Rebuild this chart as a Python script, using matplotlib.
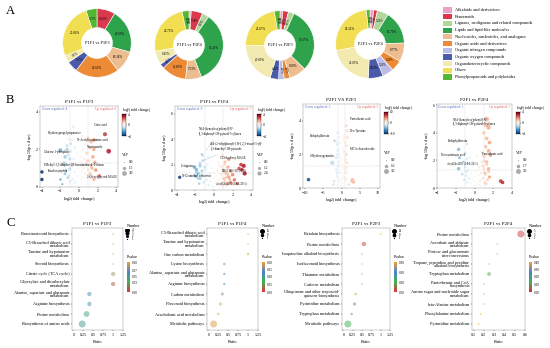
import numpy as np
import matplotlib
matplotlib.use("Agg")
import matplotlib.pyplot as plt
from matplotlib.colors import LinearSegmentedColormap, Normalize
from matplotlib.cm import ScalarMappable

plt.rcParams['font.family'] = ['Liberation Serif', 'DejaVu Serif']

W, H = 550, 348

# ---------------- panel A data ----------------
classes = ["Alkaloids and derivatives", "Benzenoids",
           "Lignans, neolignans and related compounds", "Lipids and lipid-like molecules",
           "Nucleosides, nucleotides, and analogues", "Organic acids and derivatives",
           "Organic nitrogen compounds", "Organic oxygen compounds",
           "Organoheterocyclic compounds", "Others", "Phenylpropanoids and polyketides"]
class_colors = ["#e9a3c6", "#d8394c", "#b3d79b", "#2fa34c", "#ebbd8f", "#ec8a35",
                "#bcbde6", "#4b5aa9", "#f2eab0", "#f1de52", "#54b734"]

donut_titles = ["P1F1 vs P1F3", "P1F1 vs P1F4", "P2F1 vs P2F3", "P2F1 vs P2F4"]
pct_p1f3 = [0, 8.62, 0, 20.69, 10.34, 20.69, 0, 5.17, 3.45, 25.86, 5.17]
pct_p1f4 = [1.08, 5.38, 3.23, 34.41, 7.53, 11.83, 0, 2.15, 6.45, 24.73, 3.23]
pct_p2f3 = [1.33, 2.67, 2.67, 30.67, 8.00, 2.67, 2.67, 4.00, 20.00, 22.67, 2.67]
pct_p2f4 = [1.75, 1.75, 5.26, 15.79, 8.77, 5.26, 5.26, 7.02, 21.05, 26.32, 1.75]

# ---------------- panel B data (log2FC, -log10 p, VIP) ----------------
# significant / labelled metabolites
v1_x = [3.2, 2.8, 1.0, 1.3, 1.6, 1.2, 1.6, 1.5, 1.7, 1.4, 1.8, 1.2, 2.2, 1.6, 0.8, 0.9,
        -4.0, -4.0, -2.0, -1.5, -1.3, -1.0, -1.0, -1.5, -2.0, -1.8, -1.6, -0.9, -0.6, -1.2]
v1_y = [1.9, 2.8, 2.6, 2.4, 2.5, 2.1, 2.0, 1.6, 1.3, 1.0, 0.9, 0.7, 0.6, 0.4, 1.8, 1.4,
        0.8, 0.4, 1.95, 1.6, 2.0, 1.5, 0.95, 0.7, 0.4, 0.15, 1.2, 2.3, 3.2, 0.5]
v1_vip = [3.0, 2.2, 1.2, 1.5, 1.8, 1.5, 1.6, 1.8, 1.7, 1.4, 1.5, 1.2, 1.3, 1.0, 1.0, 1.0,
          1.6, 1.6, 2.0, 1.6, 1.4, 1.4, 1.6, 1.2, 0.8, 0.6, 1.4, 1.0, 0.5, 1.0]
# background metabolites
v1_cx = [-1.6, -1.4, -1.2, -1.1, -0.9, -0.8, -0.7, -0.6, -0.5, -0.45, -0.4, -0.35, -0.3, -0.25,
         -0.2, -0.15, -0.1, -0.05, 0.05, 0.1, 0.15, 0.2, 0.25, 0.3, 0.35, 0.4, 0.45, 0.5, 0.6,
         0.7, 0.8, 0.9, 1.0, 1.1, 1.2, 1.3, -1.3, -0.75, -0.55, 0.65, 0.35, -0.95]
v1_cy = [1.3, 0.9, 1.7, 0.6, 1.9, 1.1, 0.4, 1.5, 0.8, 2.1, 0.3, 1.2, 0.6, 1.8, 0.2, 1.0, 0.5,
         0.1, 0.15, 0.6, 1.1, 0.3, 1.6, 0.8, 1.3, 0.5, 2.0, 1.0, 1.5, 0.7, 1.2, 1.8, 0.9, 1.4,
         0.5, 1.1, 2.2, 2.5, 0.2, 2.3, 2.7, 0.3]
v1_cvip = [0.9, 0.8, 1.0, 0.7, 1.0, 0.8, 0.6, 0.8, 0.6, 0.7, 0.4, 0.6, 0.4, 0.6, 0.3, 0.4, 0.3,
           0.2, 0.2, 0.3, 0.4, 0.3, 0.6, 0.5, 0.6, 0.4, 0.7, 0.6, 0.7, 0.6, 0.8, 0.9, 0.8, 0.9,
           0.8, 0.9, 1.0, 0.8, 0.5, 0.8, 0.6, 0.7]

v2_x = [3.2, 3.3, 3.0, 2.9, 2.7, 1.6, 1.2, 1.5, 1.8, 2.0, 1.3, 1.6, 2.2, 1.1, 1.8, 1.4,
        2.5, 1.0, 0.9,
        -3.7, -2.1, -1.9, -1.5, -1.7, -1.3, -2.0, -1.0, -1.2, -0.8, -1.3, -1.5]
v2_y = [1.9, 1.3, 1.6, 2.0, 1.7, 2.4, 2.2, 1.8, 1.5, 1.2, 1.3, 1.0, 0.8, 0.9, 0.6, 0.5,
        0.5, 1.6, 2.7,
        1.0, 1.8, 1.6, 1.9, 1.3, 1.5, 1.1, 1.8, 2.3, 3.2, 2.8, 0.9]
v2_vip = [2.4, 2.4, 1.8, 1.6, 1.5, 1.4, 1.2, 1.5, 1.6, 1.5, 1.3, 1.7, 1.5, 1.2, 1.4, 1.2,
          1.2, 1.0, 1.0,
          1.5, 1.6, 1.5, 1.4, 1.3, 1.2, 1.2, 1.0, 1.0, 0.6, 0.8, 1.2]
v2_cx = [-1.9, -1.7, -1.5, -1.3, -1.1, -1.0, -0.9, -0.8, -0.7, -0.6, -0.5, -0.4, -0.3, -0.2,
         -0.1, -0.05, 0.05, 0.1, 0.2, 0.3, 0.4, 0.5, 0.6, 0.7, 0.8, 0.9, 1.0, 1.1, 1.2, 1.3,
         1.4, 1.5, 1.7, 1.9, -1.2, -0.65, 0.45, 0.85, -1.6, 1.15]
v2_cy = [1.4, 0.9, 2.1, 1.2, 0.6, 2.4, 1.6, 0.8, 2.0, 0.4, 1.3, 0.7, 1.7, 0.3, 0.9, 0.1, 0.2,
         0.6, 1.1, 0.4, 1.5, 0.8, 1.9, 0.5, 1.2, 0.9, 0.3, 1.4, 0.7, 1.0, 0.4, 1.2, 0.8, 0.5,
         2.7, 2.6, 2.2, 1.8, 0.5, 2.0]
v2_cvip = [1.0, 0.9, 1.1, 0.9, 0.8, 0.9, 0.8, 0.7, 0.8, 0.6, 0.6, 0.5, 0.5, 0.3, 0.3, 0.2, 0.2,
           0.3, 0.4, 0.4, 0.5, 0.6, 0.7, 0.6, 0.8, 0.8, 0.7, 0.9, 0.9, 1.0, 0.9, 1.0, 1.0, 0.9,
           0.8, 0.7, 0.6, 0.8, 0.9, 0.9]

v3_x = [1.2, 1.5, 0.9, 1.6, 1.0, 1.4, 0.8, 1.3, 1.0, 1.5, 0.9, 1.2, 3.0, 3.3, 2.8, 2.0,
        -9.0, -1.0, -0.8, -1.8, -1.2, -2.5, -1.0, -1.5, -0.8, -2.0, -2.2, -1.2]
v3_y = [3.7, 3.4, 3.1, 3.0, 2.7, 2.5, 2.2, 2.0, 1.7, 1.5, 1.2, 0.9, 0.5, 0.35, 0.4, 0.2,
        0.5, 3.3, 3.0, 2.8, 2.6, 1.5, 2.0, 1.8, 1.5, 0.4, 0.2, 0.9]
v3_vip = [1.6, 1.5, 1.0, 1.3, 1.2, 1.3, 1.0, 1.2, 1.0, 1.1, 0.9, 0.9, 1.6, 1.5, 1.4, 0.8,
          1.6, 1.2, 1.0, 1.6, 1.2, 2.6, 1.0, 1.2, 0.8, 0.8, 0.7, 0.8]
v3_cx = [-1.4, -1.2, -1.0, -0.9, -0.8, -0.7, -0.6, -0.5, -0.4, -0.3, -0.25, -0.2, -0.15, -0.1,
         -0.05, 0.05, 0.1, 0.15, 0.2, 0.3, 0.4, 0.5, 0.6, 0.7, 0.8, 0.9, 1.0, 1.1, 1.2, 1.4,
         -0.6, -0.35, 0.35, 0.65, -1.1, 0.95, 0.45, -0.45]
v3_cy = [1.1, 0.7, 1.9, 1.3, 0.5, 2.3, 1.0, 1.6, 0.4, 1.2, 2.0, 0.7, 0.3, 1.4, 0.1, 0.2, 0.9,
         0.5, 1.7, 1.1, 0.6, 1.4, 0.8, 2.1, 1.3, 0.6, 1.0, 1.6, 0.5, 1.2, 2.7, 1.8, 2.4, 2.9,
         2.2, 1.9, 0.3, 0.9]
v3_cvip = [1.0, 0.8, 1.0, 0.9, 0.7, 0.9, 0.8, 0.7, 0.5, 0.6, 0.6, 0.4, 0.3, 0.4, 0.2, 0.2, 0.4,
           0.3, 0.6, 0.5, 0.4, 0.6, 0.6, 0.8, 0.8, 0.7, 0.9, 1.0, 0.8, 1.0, 0.9, 0.7, 0.7, 0.9,
           1.0, 0.9, 0.4, 0.5]

v4_x = [1.3, 1.2, 1.5, 1.0, 1.3, 1.6, 1.2, 1.5, 1.7, 1.0, 1.3, 0.9, 1.5, 1.1, 2.8, 3.0, 1.6,
        -1.7, -1.6, -1.7, -1.0, -0.7, -0.8, -1.2, -0.9]
v4_y = [5.0, 4.6, 4.4, 4.0, 3.6, 3.3, 3.0, 2.7, 2.4, 2.3, 1.9, 1.6, 1.4, 1.1, 0.5, 0.4, 0.8,
        2.8, 2.2, 1.4, 2.5, 1.8, 3.2, 1.9, 1.2]
v4_vip = [3.3, 2.8, 2.5, 1.8, 1.8, 1.7, 1.6, 1.8, 2.0, 1.4, 1.5, 1.1, 1.4, 1.2, 2.0, 1.6, 1.2,
          1.6, 1.3, 1.6, 1.0, 0.8, 0.8, 1.0, 0.8]
v4_cx = [-1.3, -1.1, -1.0, -0.9, -0.8, -0.7, -0.6, -0.5, -0.4, -0.3, -0.25, -0.2, -0.1, -0.05,
         0.05, 0.1, 0.2, 0.3, 0.4, 0.5, 0.6, 0.7, 0.8, 0.9, 1.0, 1.1, 1.2, 1.3, 1.4, 1.5,
         -0.55, -0.15, 0.25, 0.75, 1.05, -0.85, 0.55, 1.25]
v4_cy = [1.0, 0.6, 1.5, 0.9, 0.4, 1.3, 0.7, 1.8, 0.3, 1.1, 0.6, 1.6, 0.2, 0.8, 0.1, 0.5, 1.2,
         0.3, 0.9, 1.5, 0.5, 1.1, 1.9, 0.7, 1.4, 0.4, 1.0, 1.7, 0.6, 1.2, 2.2, 2.0, 2.3, 2.6,
         2.0, 2.1, 0.2, 0.3]
v4_cvip = [0.9, 0.8, 0.9, 0.8, 0.6, 0.8, 0.7, 0.7, 0.4, 0.5, 0.4, 0.5, 0.2, 0.3, 0.2, 0.3, 0.5,
           0.4, 0.5, 0.7, 0.6, 0.7, 0.9, 0.7, 0.9, 0.8, 0.9, 1.0, 0.9, 1.0, 0.7, 0.6, 0.7, 0.9,
           1.0, 0.8, 0.4, 0.8]

# ---------------- panel C data ----------------
c1_paths = ["Brassinosteroid biosynthesis", "C5-Branched dibasic acid\nmetabolism",
            "Taurine and hypotaurine\nmetabolism", "Steroid biosynthesis",
            "Citrate cycle (TCA cycle)", "Glyoxylate and dicarboxylate\nmetabolism",
            "Alanine, aspartate and glutamate\nmetabolism", "Arginine biosynthesis",
            "Purine metabolism", "Biosynthesis of amino acids"]
c1_ratio = [1.0, 1.0, 1.0, 1.0, 1.0, 1.0, 0.4, 0.4, 0.33, 0.22]
c1_p = [0.10, 0.10, 0.10, 0.10, 0.085, 0.01, 0.06, 0.06, 0.045, 0.05]
c1_n = [1, 1, 1, 1, 2, 2, 2, 2, 3, 4]

c2_paths = ["C5-Branched dibasic acid\nmetabolism", "Taurine and hypotaurine\nmetabolism",
            "One carbon metabolism", "Lysine biosynthesis",
            "Alanine, aspartate and glutamate\nmetabolism", "Arginine biosynthesis",
            "Carbon metabolism", "Flavonoid biosynthesis",
            "Arachidonic acid metabolism", "Metabolic pathways"]
c2_ratio = [1.0, 1.0, 1.0, 0.4, 0.4, 0.4, 0.35, 0.3, 0.25, 0.13]
c2_p = [0.20, 0.20, 0.19, 0.12, 0.12, 0.12, 0.15, 0.19, 0.19, 0.19]
c2_n = [1, 1, 2, 2, 2, 2, 3, 3, 2, 16]

c3_paths = ["Betalain biosynthesis", "Purine metabolism",
            "Isoquinoline alkaloid biosynthesis", "Isoflavonoid biosynthesis",
            "Thiamine metabolism", "Caffeine metabolism",
            "Ubiquinone and other terpenoid-\nquinone biosynthesis", "Pyrimidine metabolism",
            "Tryptophan metabolism", "Metabolic pathways"]
c3_ratio = [1.0, 0.55, 0.5, 0.5, 0.5, 0.5, 0.33, 0.3, 0.22, 0.12]
c3_p = [0.30, 0.02, 0.30, 0.30, 0.30, 0.30, 0.28, 0.15, 0.22, 0.10]
c3_n = [1, 6, 1, 1, 1, 1, 2, 3, 2, 14]

c4_paths = ["Purine metabolism", "Ascorbate and aldarate\nmetabolism",
            "Pentose and glucuronate\ninterconversions",
            "Tropane, piperidine and pyridine\nalkaloid biosynthesis",
            "Tryptophan metabolism", "Pantothenate and CoA\nbiosynthesis",
            "Amino sugar and nucleotide sugar\nmetabolism", "beta-Alanine metabolism",
            "Phenylalanine metabolism", "Pyrimidine metabolism"]
c4_ratio = [0.56, 0.33, 0.33, 0.25, 0.25, 0.2, 0.2, 0.2, 0.17, 0.15]
c4_p = [0.01, 0.40, 0.40, 0.40, 0.12, 0.40, 0.40, 0.40, 0.40, 0.40]
c4_n = [5, 1, 1, 1, 2, 1, 1, 1, 1, 1]

fig = plt.figure(figsize=(W / 100, H / 100), dpi=100)


def ax_px(x0, y0, x1, y1):
    return fig.add_axes([x0 / W, 1 - y1 / H, (x1 - x0) / W, (y1 - y0) / H])


def ftext(x, y, s, **kw):
    fig.text(x / W, 1 - y / H, s, **kw)


# ---------------- A: donuts ----------------
ftext(6, 14, "A", fontsize=9)
donut_pos = [(97, 43), (189, 45), (280, 45), (370, 44)]
for (cx, cy), title, pct in zip(donut_pos, donut_titles,
                                [pct_p1f3, pct_p1f4, pct_p2f3, pct_p2f4]):
    r = 36
    ax = ax_px(cx - r, cy - r, cx + r, cy + r)
    vals = [p for p in pct if p > 0]
    cols = [c for p, c in zip(pct, class_colors) if p > 0]
    wedges, _ = ax.pie(vals, colors=cols, startangle=90, counterclock=False,
                       radius=1.0, wedgeprops=dict(width=0.55, edgecolor="white", linewidth=0.4))
    for w, v in zip(wedges, vals):
        mid = (w.theta1 + w.theta2) / 2
        ang = np.deg2rad(mid)
        if v < 4:
            # thin slices: write the label along the radius so neighbours do not collide
            rot = mid if -90 <= ((mid + 180) % 360 - 180) <= 90 else mid + 180
            ax.text(0.73 * np.cos(ang), 0.73 * np.sin(ang), "%.2f%%" % v, rotation=rot,
                    rotation_mode="anchor", ha="center", va="center", fontsize=1.8)
        else:
            ax.text(0.72 * np.cos(ang), 0.72 * np.sin(ang), "%.2f%%" % v,
                    ha="center", va="center", fontsize=2.1 if v < 6 else 2.3)
    ax.text(0, 0, title, ha="center", va="center", fontsize=3.2)
    ax.set_xlim(-1.05, 1.05)
    ax.set_ylim(-1.05, 1.05)
    ax.set_aspect("equal")

for i, (name, col) in enumerate(zip(classes, class_colors)):
    yy = 10 + i * 6.7
    ax = ax_px(443, yy - 2.6, 452, yy + 2.6)
    ax.set_facecolor(col)
    ax.set_xticks([])
    ax.set_yticks([])
    for s in ax.spines.values():
        s.set_visible(False)
    ftext(455, yy, name, fontsize=3.2, va="center")

# ---------------- B: volcanos ----------------
ftext(6, 103, "B", fontsize=9)
vol_cmap = "RdBu_r"
volcanos = [
    dict(title="P1F1 vs P1F3", box=(40, 106, 118, 187), x=v1_x, y=v1_y, vip=v1_vip,
         cx=v1_cx, cy=v1_cy, cvip=v1_cvip,
         xlim=(-4.2, 4.2), xt=[-4, -2, 0, 2, 4], ylim=(0, 4.3), yt=[0, 2, 4], cl=4,
         down="Down regulated: 8", up="Up regulated: 6", vipt=["0.0", "1.5", "3.0"],
         labels=[("Citric acid", 2.8, 2.8, 1.6, 3.3), ("Hydroxypropyl propanoate", -1.0, 2.5, -3.3, 2.85),
                 ("N-Acetylneuraminic acid", 0.9, 2.4, -0.2, 2.5), ("Nicotinamide", 1.2, 2.1, 0.9, 2.15),
                 ("Glucose 1-phosphate", -2.0, 1.95, -3.8, 1.85),
                 ("1-Methyl-1,3-dihydro-2H-benzimidazole-2-thione", -1.0, 0.95, -3.8, 1.15),
                 ("Fenoboxystrobin", -1.5, 0.7, -3.4, 0.85), ("2-Oleoylglycerol MAGE", 1.8, 0.9, 0.9, 0.55)]),
    dict(title="P1F1 vs P1F4", box=(175, 106, 253, 190), x=v2_x, y=v2_y, vip=v2_vip,
         cx=v2_cx, cy=v2_cy, cvip=v2_cvip,
         xlim=(-4.2, 4.2), xt=[-4, -2, 0, 2, 4], ylim=(0, 6.6), yt=[0, 2, 4, 6], cl=4,
         down="Down regulated: 9", up="Up regulated: 7", vipt=["0.0", "1.2", "2.4"],
         labels=[("N-[4-(benzyloxy)phenyl]-N'-\n(1,3-diphenyl-1H-pyrazol-5-yl)urea", -0.8, 3.2, -1.6, 4.6),
                 ("4-[4-(2-ethylphenyl)-1H-1,2,3-triazol-5-yl]-\n1,3-dimethyl-1H-pyrazole", -1.2, 2.3, -0.4, 3.4),
                 ("3-Dehydroxy MAGE", 1.6, 2.4, 0.6, 2.5), ("DAG(16:1/18:1/0:0)", 3.0, 1.6, 0.9, 1.6),
                 ("L-Arginine", -2.1, 1.8, -3.6, 1.85), ("N-Desmethyl adenosine", -3.7, 1.0, -3.4, 1.1),
                 ("AcylGlcADG (18:1/20:1)", 2.2, 0.8, 0.2, 0.5)]),
    dict(title="P2F1 VS P2F3", box=(303, 104, 380, 188), x=v3_x, y=v3_y, vip=v3_vip,
         cx=v3_cx, cy=v3_cy, cvip=v3_cvip,
         xlim=(-10.5, 10.5), xt=[-10, -5, 0, 5, 10], ylim=(0, 5.0), yt=[0, 2, 4], cl=10,
         down="Down regulated: 3", up="Up regulated: 5", vipt=["0.0", "1.6", "3.3"],
         labels=[("Pantothenic acid", 1.2, 3.7, 2.2, 4.1), ("Dl-o-Tyrosine", 1.5, 3.4, 2.3, 3.4),
                 ("Podophyllotoxin", -1.8, 2.8, -8.5, 3.1), ("MCA chenodeoxide", 1.3, 2.0, 2.3, 2.3),
                 ("2'-Hydroxygenistein", -2.5, 1.5, -8.5, 1.9)]),
    dict(title="P2F1 vs P2F4", box=(437, 104, 512, 188), x=v4_x, y=v4_y, vip=v4_vip,
         cx=v4_cx, cy=v4_cy, cvip=v4_cvip,
         xlim=(-4.0, 4.0), xt=[-4, -2, 0, 2, 4], ylim=(0, 6.1), yt=[0, 2, 4, 6], cl=4,
         down="Down regulated: 1", up="Up regulated: 7", vipt=["0.0", "1.7", "3.3"],
         labels=[("N-[4-(benzyloxy)phenyl]-N'-\n(1,3-diphenyl-1H-pyrazol-5-yl)urea", 1.2, 4.6, -2.3, 4.8),
                 ("Podophyllotoxin", -1.7, 2.8, -2.8, 3.4), ("Docosatrienoic acid", -1.6, 2.2, -3.6, 2.4),
                 ("Pantothenic acid", 1.7, 2.4, 0.8, 2.5), ("AcylGlcADG (18:1/20:1)", -1.7, 1.4, -2.9, 1.75)]),
]

for v in volcanos:
    x0, y0, x1, y1 = v["box"]
    ax = ax_px(x0, y0, x1, y1)
    norm = Normalize(-v["cl"], v["cl"])
    ax.axhline(1.3, color="#cccccc", lw=0.3, ls="--", zorder=0)
    ax.axvline(-1, color="#cccccc", lw=0.3, ls="--", zorder=0)
    ax.axvline(1, color="#cccccc", lw=0.3, ls="--", zorder=0)
    # background cloud, then significant metabolites on top
    ax.scatter(v["cx"], v["cy"], c=[xx * 0.9 for xx in v["cx"]], cmap=vol_cmap, norm=norm,
               s=[0.6 + 3.6 * s for s in v["cvip"]], alpha=0.7, linewidths=0)
    ax.scatter(v["x"], v["y"], c=v["x"], cmap=vol_cmap, norm=norm,
               s=[0.6 + 3.6 * s for s in v["vip"]], alpha=0.85, linewidths=0)
    ax.set_xlim(*v["xlim"])
    ax.set_ylim(*v["ylim"])
    ax.set_xticks(v["xt"])
    ax.set_yticks(v["yt"])
    ax.tick_params(labelsize=3, length=1, width=0.3, pad=0.8)
    for s in ax.spines.values():
        s.set_linewidth(0.3)
        s.set_color("#888888")
    ax.set_xlabel("log$_2$(fold change)", fontsize=3.2, labelpad=1)
    ax.set_ylabel("-log$_{10}$(p value)", fontsize=3.2, labelpad=1)
    ax.set_title(v["title"], fontsize=3.6, pad=2)
    ax.text(0.02, 0.985, v["down"], transform=ax.transAxes, fontsize=2.4, color="#5a6fc0", va="top")
    ax.text(0.98, 0.985, v["up"], transform=ax.transAxes, fontsize=2.4, color="#e06060",
            va="top", ha="right")
    for txt, px, py, tx, ty in v["labels"]:
        ax.annotate(txt, (px, py), (tx, ty), fontsize=2.2, va="center",
                    arrowprops=dict(arrowstyle="-", lw=0.2, color="#999999"))
    # colorbar
    cax = ax_px(x1 + 4, y0 + 8, x1 + 8, y0 + 30)
    cb = fig.colorbar(ScalarMappable(norm=norm, cmap=vol_cmap), cax=cax,
                      ticks=[-v["cl"], 0, v["cl"]])
    cb.ax.tick_params(labelsize=2.6, length=0.8, width=0.3, pad=0.6)
    cb.outline.set_linewidth(0.2)
    ftext(x1 + 4, y0 + 5, "log$_2$(fold change)", fontsize=2.8)
    # VIP legend
    ftext(x1 + 4, y0 + 50, "VIP", fontsize=3)
    lax = ax_px(x1 + 3, y0 + 52, x1 + 20, y0 + 74)
    lax.axis("off")
    lax.set_xlim(0, 1)
    lax.set_ylim(3.5, -0.5)
    for k, lab in enumerate(v["vipt"]):
        sval = float(lab)
        lax.scatter([0.15], [k + 0.3], s=0.6 + 3.6 * sval, color="#aaaaaa", linewidths=0)
        lax.text(0.45, k + 0.3, lab, fontsize=2.6, va="center")

# ---------------- C: enrichment bubbles ----------------
ftext(6, 226, "C", fontsize=9)
p_cmap = LinearSegmentedColormap.from_list("pv", ["#e0303a", "#3fb34f", "#4a82d0", "#f2a22c"])
enrich = [
    dict(title="P1F1 vs P1F3", box=(72, 228, 123, 330), paths=c1_paths, r=c1_ratio, p=c1_p,
         n=c1_n, xlim=(0, 1.25), xt=[0, 0.25, 0.5, 0.75, 1, 1.25],
         xtl=["0", "0.25", "0.5", "0.75", "1", "1.25"], pmax=0.10,
         pt=[0.0, 0.03, 0.05, 0.07, 0.10], nt=[4, 3, 2, 1], smax=4),
    dict(title="P1F1 vs P1F4", box=(207, 228, 258, 330), paths=c2_paths, r=c2_ratio, p=c2_p,
         n=c2_n, xlim=(0, 1.25), xt=[0, 0.25, 0.5, 0.75, 1, 1.25],
         xtl=["0", "0.25", "0.5", "0.75", "1", "1.25"], pmax=0.20,
         pt=[0.0, 0.05, 0.10, 0.15, 0.20], nt=[16, 8, 1], smax=16),
    dict(title="P2F1 vs P2F3", box=(342, 228, 390, 330), paths=c3_paths, r=c3_ratio, p=c3_p,
         n=c3_n, xlim=(0, 1.25), xt=[0, 0.25, 0.5, 0.75, 1, 1.25],
         xtl=["0", "0.25", "0.5", "0.75", "1", "1.25"], pmax=0.30,
         pt=[0.0, 0.10, 0.20, 0.30], nt=[14, 8, 1], smax=14),
    dict(title="P2F1 vs P2F4", box=(472, 228, 525, 330), paths=c4_paths, r=c4_ratio, p=c4_p,
         n=c4_n, xlim=(0.1, 0.6), xt=[0.1, 0.2, 0.3, 0.4, 0.5, 0.6],
         xtl=["0.1", "0.2", "0.3", "0.4", "0.5", "0.6"], pmax=0.40,
         pt=[0.0, 0.10, 0.20, 0.30, 0.40], nt=[5, 3, 1], smax=5),
]

for e in enrich:
    x0, y0, x1, y1 = e["box"]
    ax = ax_px(x0, y0, x1, y1)
    ypos = np.arange(len(e["paths"]))[::-1]
    norm = Normalize(0, e["pmax"])

    def bsize(n, smax=e["smax"]):
        return 1.6 + 24.0 * (n - 1) / max(smax - 1, 1)

    ax.scatter(e["r"], ypos, s=[bsize(n) for n in e["n"]], c=e["p"], cmap=p_cmap,
               norm=norm, alpha=0.5, linewidths=0)
    ax.set_yticks(ypos)
    ax.set_yticklabels(e["paths"], fontsize=3.1, linespacing=0.9)
    ax.set_ylim(-0.6, len(e["paths"]) - 0.4)
    ax.set_xlim(e["xlim"][0] - 0.03 * (e["xlim"][1] - e["xlim"][0]), e["xlim"][1])
    ax.set_xticks(e["xt"])
    ax.set_xticklabels(e["xtl"], fontsize=3)
    ax.tick_params(length=1, width=0.3, pad=1)
    for s in ax.spines.values():
        s.set_linewidth(0.3)
        s.set_color("#888888")
    ax.set_xlabel("Ratio", fontsize=3.2, labelpad=2)
    ax.set_title(e["title"], fontsize=3.6, pad=2)
    # Number legend
    ftext(x1 + 4, y0 - 1, "Number", fontsize=3)
    lax = ax_px(x1 + 2, y0 + 1, x1 + 14, y0 + 12)
    lax.axis("off")
    lax.set_xlim(0, 1)
    lax.set_ylim(len(e["nt"]) - 0.5, -0.5)
    for k, nv in enumerate(e["nt"]):
        lax.scatter([0.2], [k], s=bsize(nv) * 0.5, color="black", linewidths=0)
        lax.text(0.55, k, str(nv), fontsize=2.2, va="center")
    # Pvalue colorbar
    ftext(x1 + 4, y0 + 30, "Pvalue", fontsize=3)
    cax = ax_px(x1 + 4, y0 + 34, x1 + 7, y0 + 64)
    cb = fig.colorbar(ScalarMappable(norm=norm, cmap=p_cmap), cax=cax, ticks=e["pt"])
    cb.ax.set_yticklabels(["%.2f" % t for t in e["pt"]])
    cb.ax.tick_params(labelsize=2.4, length=0, pad=1)
    cb.outline.set_linewidth(0)

fig.savefig("out.png", dpi=100)
